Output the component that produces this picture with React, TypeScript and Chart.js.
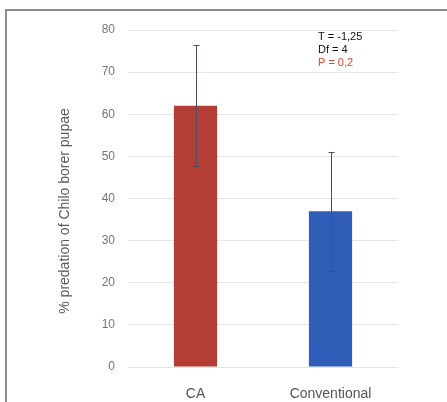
import React, { useEffect, useRef } from "react";
import { Chart, registerables } from "chart.js";

Chart.register(...registerables);

const categories = ["CA", "Conventional"];
const means = [62, 37];
const errors = [14.4, 14.1];
const barColors = ["#b43d35", "#2f5db8"];
const yTicks = [0, 10, 20, 30, 40, 50, 60, 70, 80];
const yTitle = "% predation of Chilo borer pupae";
const statLines = ["T = -1,25", "Df = 4", "P = 0,2"];
const statColors = ["#111111", "#111111", "#e8432c"];

const W = 447;
const H = 402;

const extrasPlugin = {
  id: "extras",
  beforeDraw(chart: any) {
    const ctx = chart.ctx;
    ctx.save();
    ctx.fillStyle = "#ffffff";
    ctx.fillRect(0, 0, chart.width, chart.height);
    ctx.restore();
  },
  afterDatasetsDraw(chart: any) {
    const ctx = chart.ctx;
    const y = chart.scales.y;
    const meta = chart.getDatasetMeta(0);
    ctx.save();
    ctx.strokeStyle = "#4a4f5c";
    ctx.lineWidth = 1;
    meta.data.forEach((bar: any, i: number) => {
      const x = Math.round(bar.x) + 0.5;
      const top = Math.round(y.getPixelForValue(means[i] + errors[i])) + 0.5;
      const bot = Math.round(y.getPixelForValue(means[i] - errors[i])) + 0.5;
      ctx.beginPath();
      ctx.moveTo(x, top);
      ctx.lineTo(x, bot);
      ctx.moveTo(x - 3, top);
      ctx.lineTo(x + 3, top);
      ctx.moveTo(x - 3, bot);
      ctx.lineTo(x + 3, bot);
      ctx.stroke();
    });
    ctx.restore();
  },
  afterDraw(chart: any) {
    const ctx = chart.ctx;
    ctx.save();
    // frame
    ctx.strokeStyle = "#8c8c8c";
    ctx.lineWidth = 2;
    ctx.beginPath();
    ctx.moveTo(6, H);
    ctx.lineTo(6, 10);
    ctx.lineTo(W, 10);
    ctx.stroke();
    // y title
    ctx.fillStyle = "#5a5a5a";
    ctx.font = "14px 'Liberation Sans', Arial, sans-serif";
    ctx.textAlign = "center";
    ctx.textBaseline = "middle";
    ctx.translate(65, 211);
    ctx.rotate(-Math.PI / 2);
    ctx.fillText(yTitle, 0, 0);
    ctx.restore();
    // stats text
    ctx.save();
    ctx.font = "11px 'Liberation Sans', Arial, sans-serif";
    ctx.textAlign = "left";
    ctx.textBaseline = "middle";
    statLines.forEach((t, i) => {
      ctx.fillStyle = statColors[i];
      ctx.fillText(t, 318, 37 + i * 13);
    });
    ctx.restore();
  },
};

export default function App() {
  const ref = useRef<HTMLCanvasElement>(null);
  useEffect(() => {
    document.body.style.margin = "0";
    const chart = new Chart(ref.current!, {
      type: "bar",
      data: {
        labels: categories,
        datasets: [
          {
            data: means,
            backgroundColor: barColors,
            borderWidth: 0,
            barPercentage: 0.32,
            categoryPercentage: 1,
          },
        ],
      },
      options: {
        responsive: false,
        animation: false,
        layout: { padding: { left: 0, right: 49, top: 30, bottom: 0 } },
        plugins: {
          legend: { display: false },
          tooltip: { enabled: false },
        },
        scales: {
          x: {
            grid: { display: false },
            border: { display: false },
            ticks: {
              color: "#555555",
              font: { size: 14, family: "'Liberation Sans', Arial, sans-serif" },
              padding: 11,
            },
            afterFit(scale: any) {
              scale.height = 35;
            },
          },
          y: {
            min: 0,
            max: 80,
            afterBuildTicks(scale: any) {
              scale.ticks = yTicks.map((v) => ({ value: v }));
            },
            grid: { color: "#e6e6e6", drawTicks: false, lineWidth: 1 },
            border: { display: false },
            ticks: {
              color: "#777777",
              font: { size: 12, family: "'Liberation Sans', Arial, sans-serif" },
              padding: 13,
            },
            afterFit(scale: any) {
              scale.width = 128;
            },
          },
        },
      },
      plugins: [extrasPlugin],
    });
    return () => chart.destroy();
  }, []);
  return (
    <div style={{ position: "absolute", left: 0, top: 0, width: W, height: H }}>
      <canvas ref={ref} width={W} height={H} />
    </div>
  );
}
